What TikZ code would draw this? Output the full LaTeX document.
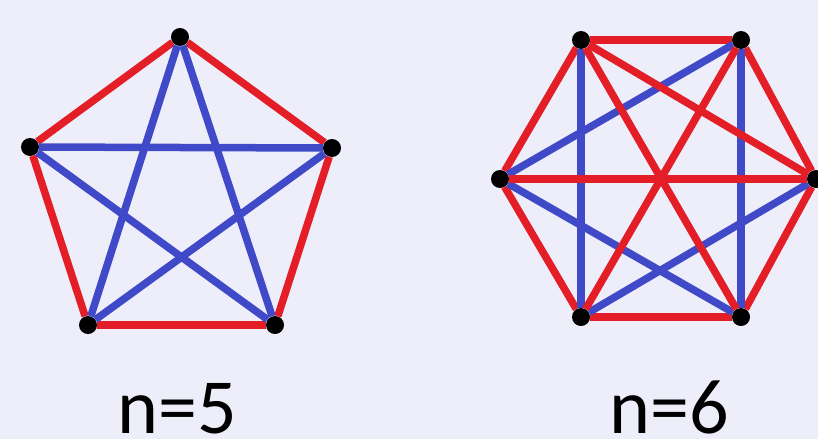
\documentclass[tikz,border=0pt]{standalone}
\usepackage{fontspec}
\setmainfont{Carlito}
\usepackage{tikz}

\definecolor{bgcol}{RGB}{238,238,250}
\definecolor{edgered}{RGB}{228,30,38}
\definecolor{edgeblue}{RGB}{64,74,200}

\begin{document}
\begin{tikzpicture}[
    x=1pt, y=-1pt,
    dot/.style={circle, fill=black, inner sep=0pt, minimum size=18pt},
    rd/.style={draw=edgered, line width=7.5pt},
    bl/.style={draw=edgeblue, line width=7.5pt},
    lbl/.style={anchor=base, inner sep=0pt, font=\fontsize{78}{78}\selectfont}
]
\fill[bgcol] (0,0) rectangle (818,439);
\useasboundingbox (0,0) rectangle (818,439);

% n = 5
\node[dot] (a1) at (180,37) {};
\node[dot] (a2) at (332,148) {};
\node[dot] (a3) at (275,325) {};
\node[dot] (a4) at (88,325) {};
\node[dot] (a5) at (30,147) {};
\draw[rd] (a1) -- (a2);
\draw[rd] (a2) -- (a3);
\draw[rd] (a3) -- (a4);
\draw[rd] (a4) -- (a5);
\draw[rd] (a5) -- (a1);
\draw[bl] (a1) -- (a3);
\draw[bl] (a1) -- (a4);
\draw[bl] (a2) -- (a4);
\draw[bl] (a2) -- (a5);
\draw[bl] (a3) -- (a5);
\node[lbl] (lfive) at (177,433) {n=5};

% n = 6
\node[dot] (b1) at (581,40) {};
\node[dot] (b2) at (741,40) {};
\node[dot] (b3) at (816,179) {};
\node[dot] (b4) at (741,317) {};
\node[dot] (b5) at (581,317) {};
\node[dot] (b6) at (500,179) {};
\draw[rd] (b1) -- (b2);
\draw[rd] (b2) -- (b3);
\draw[rd] (b3) -- (b4);
\draw[rd] (b4) -- (b5);
\draw[rd] (b5) -- (b6);
\draw[rd] (b6) -- (b1);
\draw[bl] (b1) -- (b5);
\draw[bl] (b2) -- (b4);
\draw[bl] (b6) -- (b2);
\draw[bl] (b6) -- (b4);
\draw[bl] (b5) -- (b3);
\draw[rd] (b6) -- (b3);
\draw[rd] (b1) -- (b3);
\draw[rd] (b1) -- (b4);
\draw[rd] (b2) -- (b5);
\node[lbl] (lsix) at (669,433) {n=6};
\end{tikzpicture}
\end{document}
